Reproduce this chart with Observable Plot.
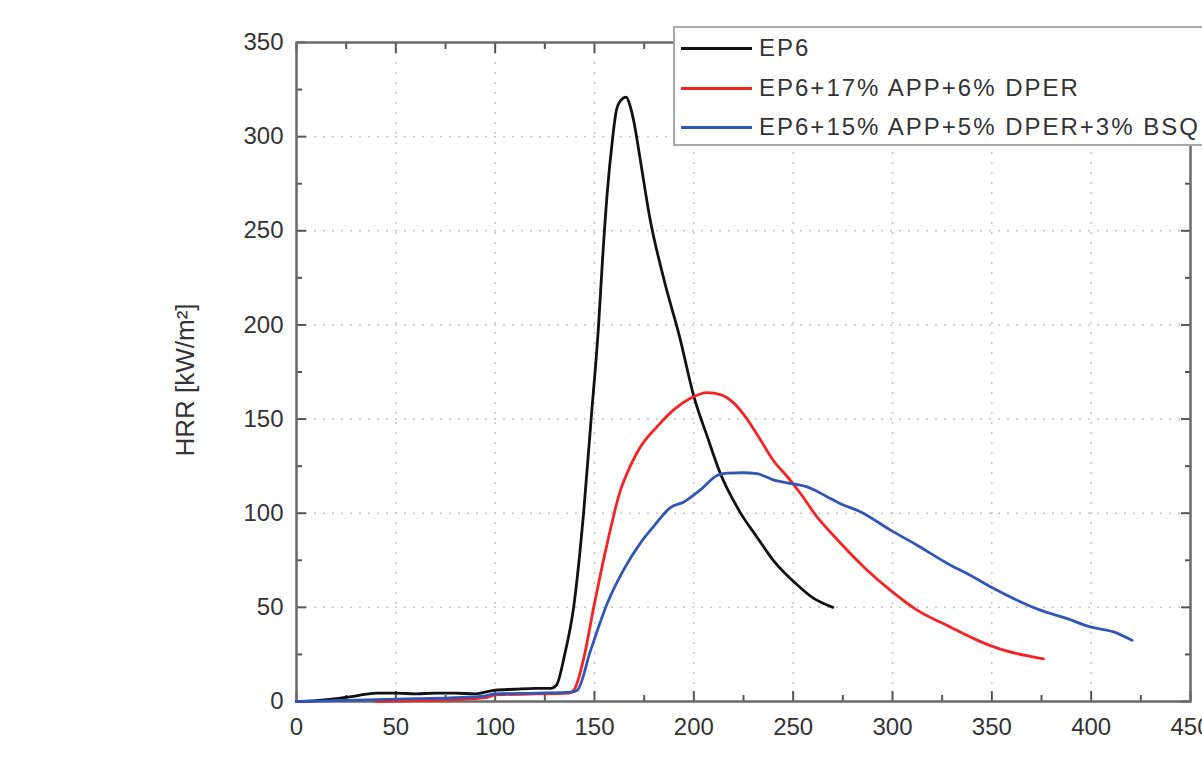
<!DOCTYPE html>
<html>
<head>
<meta charset="utf-8">
<script src="https://cdn.jsdelivr.net/npm/d3@7"></script>
<script src="https://cdn.jsdelivr.net/npm/@observablehq/plot@0.6"></script>
<style>
  html, body { margin: 0; padding: 0; background: #fff; overflow: hidden; }
  #wrap { position: relative; width: 1202px; height: 758px; overflow: hidden; }
  #legend { position: absolute; left: 673px; top: 26px; width: 560px; height: 116px;
    border: 2px solid #aaa; background: #fff; font-family: "Liberation Sans", Arial, sans-serif;
    font-size: 24px; letter-spacing: 2px; color: #333; }
  .item { position: absolute; left: 6px; height: 28px; display: flex; align-items: center; white-space: nowrap; }
  .swatch { width: 71px; height: 3px; margin-right: 7px; }
</style>
</head>
<body>
<div id="wrap"><div id="legend"></div></div>
<script>
// ---- data ----
const seriesNames = ["EP6", "EP6+17% APP+6% DPER", "EP6+15% APP+5% DPER+3% BSQ"];
const seriesLabels = ["EP6", "EP6+17% APP+6% DPER", "EP6+15% APP+5% DPER+3% BSQ"];
const seriesColors = ["#111111", "#f52424", "#3157b6"];

const ep6Time = [0,10,20,30,40,50,60,70,80,90,95,100,110,120,128,131,135,139.5,144.5,148.3,152,154,156.4,159,161,163,166,168,170,173,178,185,193,200,207,213,223,232,240,252,260,270];
const ep6Hrr  = [0,0.5,1.5,3,4.5,4.5,4,4.5,4.5,4,5,6,6.5,7,7,9,25,50,100,150,199,234,270,298,314,319,321,316,307,288,256,224,193,162,140,122,101,87,75,62,55,50];

const appTime = [40,60,80,95,100,120,137,139.6,144.6,149.6,156.4,163,168,173,181.5,190,198.3,206.7,213.4,220,226.8,233.5,240,247,253.6,262,270.4,287,299,312.4,329,340.9,351,362.7,376];
const appHrr  = [0,0.5,1,2,3.5,4,4.5,6,23,50,84,112,125,135,146,155,161,164,163,158.6,150,139,128,119.5,110.6,98,88,70,59,48.5,39.6,33.4,29,25.4,22.7];

const bsqTime = [0,20,40,60,80,95,100,120,138,141.3,148,156.4,164.7,173,179.8,188.2,195,203.3,211.7,216.8,225,231.8,240,250,257,267,273.8,283.8,299,312.4,329,337.5,351,362.7,374.4,387.9,399.6,411.3,420.6];
const bsqHrr  = [0,0.5,1,1.5,2,3,4,4.5,5,6,27,52,70,84,93,103,106,112.4,120,121.3,121.5,121,117.7,115.6,114,108.8,105,100.8,91,83,72.5,68,60,53.8,48.5,44,39.6,37,32.5];

const xMajor = [0,50,100,150,200,250,300,350,400,450];
const xMinor = [25,75,125,175,225,275,325,375,425];
const yMajor = [0,50,100,150,200,250,300,350];
const yMinor = [25,75,125,175,225,275,325];
const xGrid = [50,100,150,200,250,300,350,400];
const yGrid = [50,100,150,200,250,300];
const yLabel = "HRR [kW/m²]";

// ---- build table ----
const rows = [];
[[ep6Time, ep6Hrr], [appTime, appHrr], [bsqTime, bsqHrr]].forEach(([t, h], i) => {
  t.forEach((tv, j) => rows.push({series: seriesNames[i], t: tv, hrr: h[j]}));
});

const tickColor = "#555";
const blank = () => "";

const chart = Plot.plot({
  width: 1202,
  height: 758,
  marginLeft: 296,
  marginRight: 12,
  marginTop: 42,
  marginBottom: 57,
  style: {fontFamily: "'Liberation Sans', Arial, sans-serif", fontSize: "24px", color: "#333", background: "#fff", overflow: "hidden"},
  x: {domain: [0, 450]},
  y: {domain: [0, 350]},
  color: {domain: seriesNames, range: seriesColors},
  marks: [
    Plot.gridX(xGrid, {stroke: "#c4c4c4", strokeOpacity: 1, strokeDasharray: "2,8", strokeWidth: 1.5}),
    Plot.gridY(yGrid, {stroke: "#c4c4c4", strokeOpacity: 1, strokeDasharray: "2,7", strokeWidth: 1.5}),
    // inward ticks on all sides
    Plot.axisX(xMajor, {anchor: "bottom", tickSize: -10, tickFormat: blank, label: null, stroke: tickColor, strokeWidth: 2}),
    Plot.axisX(xMinor, {anchor: "bottom", tickSize: -6, tickFormat: blank, label: null, stroke: tickColor, strokeWidth: 2}),
    Plot.axisX(xMajor, {anchor: "top", tickSize: -10, tickFormat: blank, label: null, stroke: tickColor, strokeWidth: 2}),
    Plot.axisX(xMinor, {anchor: "top", tickSize: -6, tickFormat: blank, label: null, stroke: tickColor, strokeWidth: 2}),
    Plot.axisY(yMajor, {anchor: "left", tickSize: -10, tickFormat: blank, label: null, stroke: tickColor, strokeWidth: 2}),
    Plot.axisY(yMinor, {anchor: "left", tickSize: -6, tickFormat: blank, label: null, stroke: tickColor, strokeWidth: 2}),
    Plot.axisY(yMajor, {anchor: "right", tickSize: -10, tickFormat: blank, label: null, stroke: tickColor, strokeWidth: 2}),
    Plot.axisY(yMinor, {anchor: "right", tickSize: -6, tickFormat: blank, label: null, stroke: tickColor, strokeWidth: 2}),
    // labels
    Plot.axisX(xMajor, {anchor: "bottom", tickSize: 0, tickPadding: 16, label: null, fill: "#333"}),
    Plot.axisY(yMajor, {anchor: "left", tickSize: 0, tickPadding: 13, label: null, fill: "#333"}),
    Plot.text([yLabel], {frameAnchor: "left", dx: -111, dy: 8, rotate: -90, textAnchor: "middle", text: d => d, fill: "#333", fontSize: 26}),
    Plot.frame({stroke: "#6a6a6a", strokeWidth: 2.5}),
    Plot.line(rows, {x: "t", y: "hrr", z: "series", stroke: "series", strokeWidth: 2.8, strokeLinejoin: "round", curve: "monotone-x"})
  ]
});

const wrap = document.getElementById("wrap");
wrap.insertBefore(chart, wrap.firstChild);

// legend
const legend = document.getElementById("legend");
const itemTops = [6, 46, 85];
seriesLabels.forEach((name, i) => {
  const item = document.createElement("div");
  item.className = "item";
  item.style.top = itemTops[i] + "px";
  const sw = document.createElement("span");
  sw.className = "swatch";
  sw.style.background = seriesColors[i];
  const tx = document.createElement("span");
  tx.textContent = name;
  item.appendChild(sw);
  item.appendChild(tx);
  legend.appendChild(item);
});
</script>
</body>
</html>
